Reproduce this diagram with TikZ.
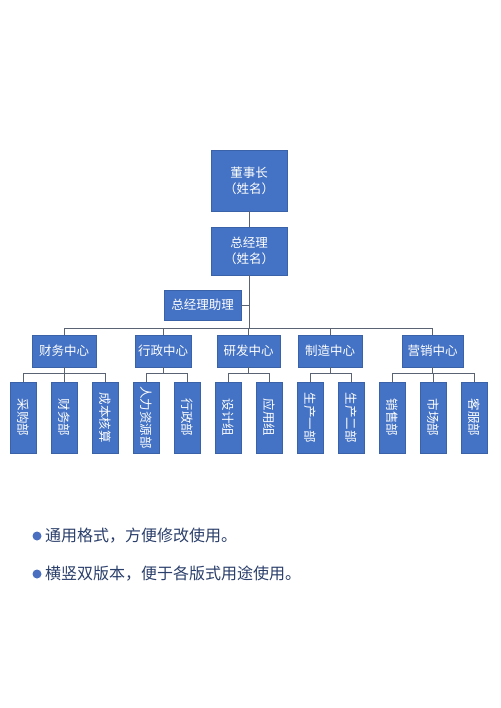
\documentclass[tikz,border=0pt]{standalone}
\usepackage{fontspec}
\newfontfamily\cjk{Noto Sans CJK SC}
\definecolor{boxfill}{HTML}{4472C4}
\definecolor{boxline}{HTML}{3A62A8}
\definecolor{linkc}{HTML}{5A6373}
\definecolor{bulletc}{HTML}{4A6FC0}
\definecolor{txtc}{HTML}{2B3F6B}
\tikzset{
  box/.style={draw=boxline, fill=boxfill, text=white, font=\cjk\fontsize{12.5}{16}\selectfont, inner sep=1pt, align=center, line width=0.6pt},
  vbox/.style={box, rotate=-90, minimum width=71pt, minimum height=26pt},
  link/.style={draw=linkc, line width=0.9pt},
  note/.style={text=txtc, font=\cjk\fontsize{16}{20}\selectfont, anchor=west, inner sep=0pt}
}
\begin{document}
\begin{tikzpicture}[x=1pt,y=-1pt]
\useasboundingbox (0,0) rectangle (500,708);
\fill[white] (0,0) rectangle (500,708);
% top
\node[box, minimum width=76pt, minimum height=61pt] (dsz) at (249,180.5) {董事长\\（姓名）};
\node[box, minimum width=76pt, minimum height=48pt] (zjl) at (249,251) {总经理\\（姓名）};
\node[box, minimum width=77pt, minimum height=30pt] (zl) at (202.5,305) {总经理助理};
\coordinate (bus) at (249,328);
\coordinate (busL) at (64,328);
\coordinate (busR) at (433,328);
% centers
\node[box, minimum width=64pt, minimum height=32pt] (cw) at (64,351) {财务中心};
\node[box, minimum width=56pt, minimum height=32pt] (xz) at (163,351) {行政中心};
\node[box, minimum width=63pt, minimum height=32pt] (yf) at (248.5,351) {研发中心};
\node[box, minimum width=64pt, minimum height=32pt] (zz) at (330,351) {制造中心};
\node[box, minimum width=61pt, minimum height=32pt] (yx) at (432.5,351) {营销中心};
% subs
\node[vbox] (s1) at (23,417.5) {采购部};
\node[vbox] (s2) at (64,417.5) {财务部};
\node[vbox] (s3) at (105,417.5) {成本核算};
\node[vbox] (s4) at (146,417.5) {人力资源部};
\node[vbox] (s5) at (187,417.5) {行政部};
\node[vbox] (s6) at (228,417.5) {设计组};
\node[vbox] (s7) at (269,417.5) {应用组};
\node[vbox] (s8) at (310,417.5) {生产一部};
\node[vbox] (s9) at (351,417.5) {生产二部};
\node[vbox] (s10) at (392,417.5) {销售部};
\node[vbox] (s11) at (433,417.5) {市场部};
\node[vbox] (s12) at (474,417.5) {客服部};
% links
\draw[link] (dsz.south) -- (zjl.north);
\draw[link] (zjl.south) -- (bus);
\draw[link] (zl.east) -- (zl.east -| bus);
\draw[link] (busL) -- (busR);
\foreach \c in {cw,xz,yf,zz,yx}{
  \draw[link] (\c.north) -- (\c.north |- bus);
  \draw[link] (\c.south) -- ++(0,6);
}
\coordinate (sb) at (0,373);
\draw[link] (s1.west |- sb) -- (s3.west |- sb);
\draw[link] (s4.west |- sb) -- (s5.west |- sb);
\draw[link] (s6.west |- sb) -- (s7.west |- sb);
\draw[link] (s8.west |- sb) -- (s9.west |- sb);
\draw[link] (s10.west |- sb) -- (s12.west |- sb);
\foreach \s in {s1,s2,s3,s4,s5,s6,s7,s8,s9,s10,s11,s12}{
  \draw[link] (\s.west) -- (\s.west |- sb);
}
% notes
\fill[bulletc] (37,536) circle (4.5pt);
\node[note] (n1) at (45,536) {通用格式，方便修改使用。};
\fill[bulletc] (37,574) circle (4.5pt);
\node[note] (n2) at (45,574) {横竖双版本，便于各版式用途使用。};
\end{tikzpicture}
\end{document}
